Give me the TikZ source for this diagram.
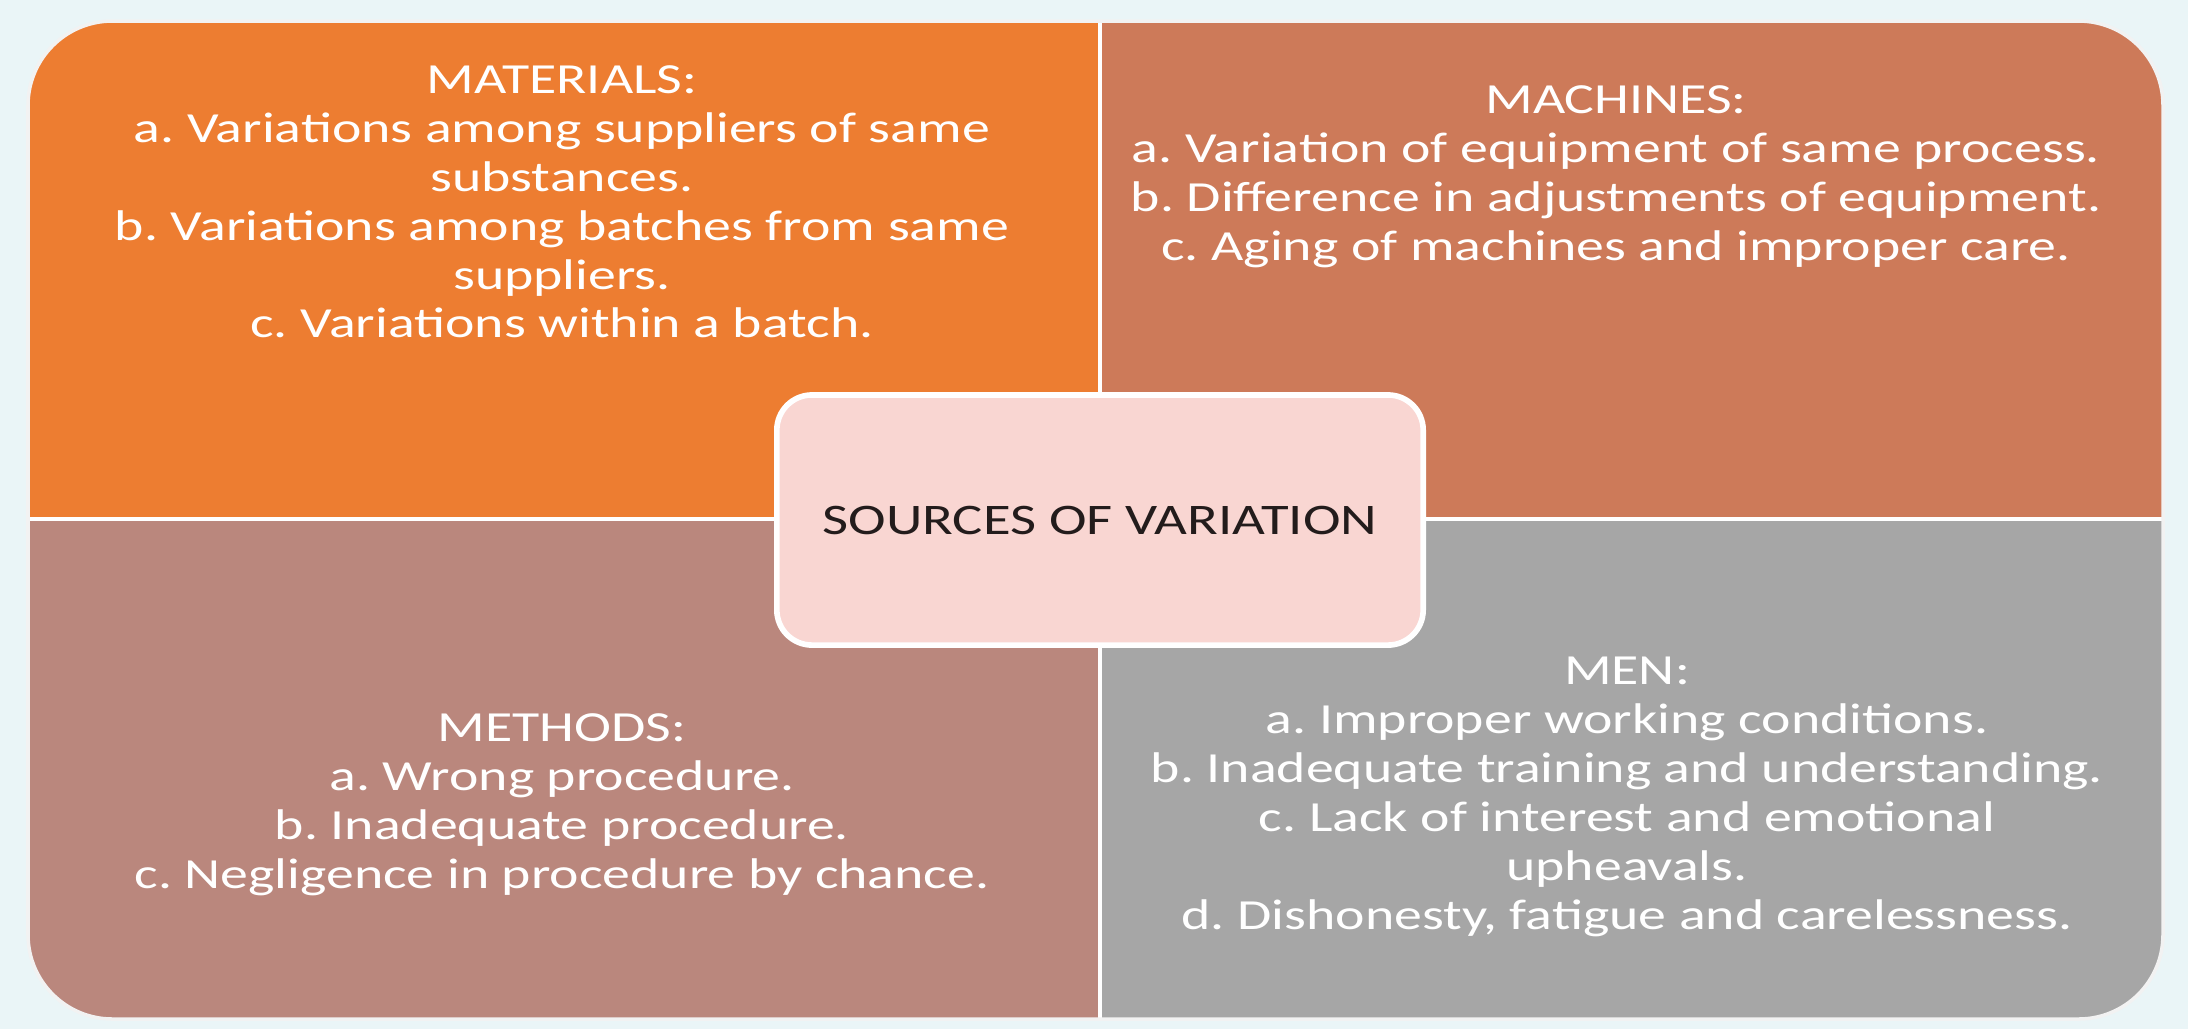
\documentclass[tikz,border=0pt]{standalone}
\usepackage{fontspec}
\setmainfont{Carlito}[FakeStretch=1.3]
\usepackage{tikz}
\usetikzlibrary{positioning}
\frenchspacing

\definecolor{matfill}{RGB}{237,125,49}
\definecolor{machfill}{RGB}{205,122,89}
\definecolor{methfill}{RGB}{186,135,125}
\definecolor{menfill}{RGB}{166,166,166}
\definecolor{hubfill}{RGB}{249,214,210}
\definecolor{pagetint}{RGB}{234,245,247}
\definecolor{hubtext}{RGB}{35,28,28}

\tikzset{
  quadtext/.style={align=center,text=white,font=\fontsize{12.2}{13.9}\selectfont},
  hubbox/.style={fill=hubfill,draw=white,line width=1.6pt,rounded corners=10pt,
    minimum width=6.46cm,minimum height=2.5cm,text=hubtext,font=\fontsize{12.4}{15}\selectfont}
}

\begin{document}
\begin{tikzpicture}[x=0.01cm,y=-0.01cm]
  \useasboundingbox (0,0) rectangle (2188,1029);
  \fill[pagetint] (0,0) rectangle (2188,1029);

  % four quadrants inside one rounded frame
  \begin{scope}
    \clip[rounded corners=24pt] (28,21) rectangle (2163,1019);
    \fill[matfill]  (28,21)    rectangle (1100,519);
    \fill[machfill] (1100,21)  rectangle (2163,519);
    \fill[methfill] (28,519)   rectangle (1100,1019);
    \fill[menfill]  (1100,519) rectangle (2163,1019);
    \draw[white,line width=1.2pt] (1100,21) -- (1100,1019);
    \draw[white,line width=1.2pt] (28,519) -- (2163,519);
  \end{scope}
  \draw[white!90!gray,line width=1pt,rounded corners=24pt] (28,21) rectangle (2163,1019);

  \node[quadtext] (materials) at (562,202) {MATERIALS:\\
    a. Variations among suppliers of same\\
    substances.\\
    b. Variations among batches from same\\
    suppliers.\\
    c. Variations within a batch.};

  \node[quadtext] (machines) at (1616,177) {MACHINES:\\
    a. Variation of equipment of same process.\\
    b. Difference in adjustments of equipment.\\
    c. Aging of machines and improper care.};

  \node[quadtext] (methods) at (562,805) {METHODS:\\
    a. Wrong procedure.\\
    b. Inadequate procedure.\\
    c. Negligence in procedure by chance.};

  \node[quadtext] (men) at (1627,797) {MEN:\\
    a. Improper working conditions.\\
    b. Inadequate training and understanding.\\
    c. Lack of interest and emotional\\
    upheavals.\\
    d. Dishonesty, fatigue and carelessness.};

  \node[hubbox] (hub) at (1100,520) {SOURCES OF VARIATION};
\end{tikzpicture}
\end{document}
